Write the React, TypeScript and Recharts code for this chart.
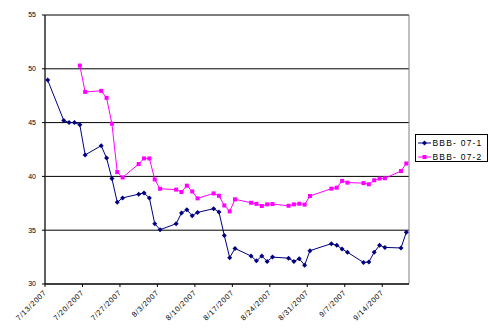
import React from "react";
import { LineChart, Line, XAxis, YAxis, CartesianGrid, Legend, ReferenceArea } from "recharts";

const dates = [
  "7/13/2007", "7/16/2007", "7/17/2007", "7/18/2007", "7/19/2007", "7/20/2007",
  "7/23/2007", "7/24/2007", "7/25/2007", "7/26/2007", "7/27/2007",
  "7/30/2007", "7/31/2007", "8/1/2007", "8/2/2007", "8/3/2007",
  "8/6/2007", "8/7/2007", "8/8/2007", "8/9/2007", "8/10/2007",
  "8/13/2007", "8/14/2007", "8/15/2007", "8/16/2007", "8/17/2007",
  "8/20/2007", "8/21/2007", "8/22/2007", "8/23/2007", "8/24/2007",
  "8/27/2007", "8/28/2007", "8/29/2007", "8/30/2007", "8/31/2007",
  "9/4/2007", "9/5/2007", "9/6/2007", "9/7/2007",
  "9/10/2007", "9/11/2007", "9/12/2007", "9/13/2007", "9/14/2007",
  "9/17/2007", "9/18/2007",
];

const bbb071 = [
  48.95, 45.2, 45.0, 45.0, 44.8, 42.0,
  42.85, 41.7, 39.8, 37.6, 38.0,
  38.35, 38.45, 38.0, 35.6, 35.05,
  35.6, 36.6, 36.9, 36.35, 36.65,
  37.0, 36.7, 34.5, 32.45, 33.3,
  32.6, 32.15, 32.6, 32.1, 32.5,
  32.4, 32.1, 32.35, 31.75, 33.1,
  33.75, 33.6, 33.25, 32.95,
  32.0, 32.05, 32.95, 33.6, 33.4,
  33.35, 34.8,
];

const bbb072: (number | null)[] = [
  null, null, null, null, 50.3, 47.85,
  47.95, 47.3, 44.9, 40.4, 39.9,
  41.15, 41.67, 41.67, 39.72, 38.85,
  38.77, 38.55, 39.14, 38.6, 37.96,
  38.42, 38.2, 37.3, 36.75, 37.87,
  37.55, 37.45, 37.25, 37.4, 37.43,
  37.27, 37.4, 37.46, 37.38, 38.18,
  38.86, 38.95, 39.58, 39.42,
  39.38, 39.27, 39.64, 39.8, 39.83,
  40.5, 41.2,
];

const tickDates = [
  "7/13/2007", "7/20/2007", "7/27/2007", "8/3/2007", "8/10/2007",
  "8/17/2007", "8/24/2007", "8/31/2007", "9/7/2007", "9/14/2007",
];

const yTicks = [30, 35, 40, 45, 50, 55];
const seriesNames = ["BBB- 07-1", "BBB- 07-2"];

const toUTC = (s: string) => {
  const [m, d, y] = s.split("/").map(Number);
  return Date.UTC(y, m - 1, d);
};
const base = toUTC(dates[0]);
const dayOf = (s: string) => Math.round((toUTC(s) - base) / 86400000);

const data = dates.map((s, i) => ({ d: dayOf(s), a: bbb071[i], b: bbb072[i] }));
const xTicks = tickDates.map((s) => dayOf(s) - 0.5);
const tickLabel = new Map(tickDates.map((s) => [dayOf(s) - 0.5, s]));

const FONT = "Arial, 'Liberation Sans', sans-serif";
const NAVY = "#000080";
const MAGENTA = "#FF00FF";

const Diamond = (props: any) => {
  const { cx, cy } = props;
  if (cx == null || cy == null) return null;
  return <polygon points={`${cx},${cy - 2.5} ${cx + 2.5},${cy} ${cx},${cy + 2.5} ${cx - 2.5},${cy}`} fill={NAVY} stroke="none" />;
};
const Square = (props: any) => {
  const { cx, cy } = props;
  if (cx == null || cy == null) return null;
  return <rect x={cx - 2} y={cy - 2} width={4} height={4} fill={MAGENTA} stroke="none" />;
};

const XTick = (props: any) => {
  const { x, payload } = props;
  const y0 = 288;
  const tx = x + 2;
  const ty = y0 + 5;
  return (
    <text x={tx} y={ty} transform={`rotate(-45 ${tx} ${ty})`} textAnchor="end" fontSize={7.5} letterSpacing={0.7} fontFamily={FONT} fill="#000">
      {tickLabel.get(payload.value) ?? ""}
    </text>
  );
};

const LegendBox = () => (
  <div
    style={{
      position: "absolute",
      left: 415,
      top: 134,
      width: 73,
      height: 28,
      border: "1px solid #000",
      background: "#fff",
      boxSizing: "border-box",
      fontFamily: FONT,
    }}
  >
    <svg width={71} height={26} style={{ display: "block" }}>
      {seriesNames.map((name, i) => {
        const y = 9 + i * 14 - 1;
        const color = i === 0 ? NAVY : MAGENTA;
        return (
          <g key={name}>
            <line x1={2} x2={15} y1={y} y2={y} stroke={color} strokeWidth={1} />
            {i === 0 ? (
              <polygon points={`8.5,${y - 2.5} 11,${y} 8.5,${y + 2.5} 6,${y}`} fill={color} />
            ) : (
              <rect x={6.5} y={y - 2} width={4} height={4} fill={color} />
            )}
            <text x={16.5} y={y + 3} fontSize={8.5} letterSpacing={1.2} fill="#000" fontFamily={FONT}>
              {name}
            </text>
          </g>
        );
      })}
    </svg>
  </div>
);

export default function App() {
  return (
    <div style={{ position: "absolute", left: 0, top: 0, width: 490, height: 335, background: "#fff" }}>
      <LineChart width={490} height={335} data={data} margin={{ top: 15, right: 81, left: 0, bottom: 0 }}>
        <CartesianGrid vertical={false} stroke="#000" strokeOpacity={1} />
        <ReferenceArea x1={-0.5} x2={67.5} y1={30} y2={55} fill="none" stroke="#808080" strokeWidth={1} ifOverflow="visible" />
        <XAxis
          dataKey="d"
          type="number"
          domain={[-0.5, 67.5]}
          ticks={xTicks}
          interval={0}
          height={51}
          tickSize={3}
          stroke="#000"
          tick={<XTick />}
          allowDataOverflow
        />
        <YAxis
          type="number"
          domain={[30, 55]}
          ticks={yTicks}
          interval={0}
          width={45}
          tickSize={3}
          tickMargin={6}
          stroke="#000"
          tick={{ fontSize: 7, fontFamily: FONT, fill: "#000" }}
        />
        <Line type="linear" dataKey="a" stroke={NAVY} strokeWidth={1} dot={<Diamond />} activeDot={false} isAnimationActive={false} />
        <Line type="linear" dataKey="b" stroke={MAGENTA} strokeWidth={1} dot={<Square />} activeDot={false} isAnimationActive={false} />
        <Legend content={() => <LegendBox />} wrapperStyle={{ position: "absolute", left: 0, top: 0, width: 0, height: 0 }} />
      </LineChart>
    </div>
  );
}
